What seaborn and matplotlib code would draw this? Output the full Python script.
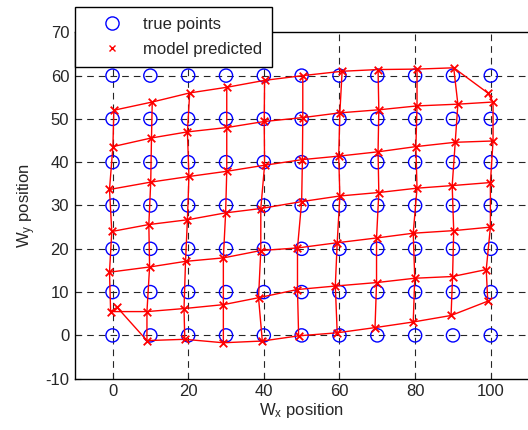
import numpy as np
import pandas as pd
import matplotlib
matplotlib.use("Agg")
import matplotlib.pyplot as plt
from matplotlib.lines import Line2D
import seaborn as sns

# ---- data -------------------------------------------------------------
grid_x = [0, 10, 20, 30, 40, 50, 60, 70, 80, 90, 100]
grid_y = [0, 10, 20, 30, 40, 50, 60]

# predicted positions, one list per true row (y = 0, 10, ..., 60)
pred_x = [
    [1.2, 9.1, 19.1, 29.3, 39.6, 49.2, 59.4, 69.4, 79.5, 89.5, 99.2],
    [-0.5, 9.1, 18.9, 29.3, 38.6, 48.9, 58.9, 69.8, 79.9, 89.9, 98.8],
    [-0.8, 9.8, 19.3, 29.3, 39.2, 48.9, 59.4, 69.8, 79.5, 90.2, 99.9],
    [-0.2, 9.6, 19.8, 29.9, 39.2, 50.0, 60.1, 70.4, 80.5, 89.8, 99.9],
    [-0.8, 10.1, 20.2, 30.2, 40.2, 50.2, 59.8, 70.2, 80.2, 90.6, 100.6],
    [0.1, 10.3, 19.8, 30.2, 40.1, 50.3, 60.1, 70.4, 80.5, 91.3, 100.6],
    [0.35, 10.5, 20.4, 30.2, 40.2, 50.3, 60.7, 70.2, 80.5, 90.2, 99.2],
]
pred_y = [
    [6.5, -1.2, -0.9, -1.7, -1.3, -0.1, 0.6, 1.8, 3.1, 4.6, 7.9],
    [5.5, 5.5, 6.2, 7.1, 8.7, 10.6, 11.4, 12.2, 13.2, 13.6, 15.2],
    [14.6, 15.8, 17.1, 17.9, 19.6, 20.2, 21.4, 22.5, 23.6, 24.2, 25.0],
    [24.0, 25.6, 26.7, 28.3, 29.3, 30.9, 32.2, 33.0, 34.0, 34.6, 35.3],
    [33.7, 35.4, 36.7, 37.9, 39.3, 40.6, 41.4, 42.4, 43.6, 44.6, 44.9],
    [43.6, 45.6, 47.0, 48.0, 49.4, 50.3, 51.4, 52.1, 53.0, 53.4, 53.9],
    [52.0, 53.9, 56.0, 57.3, 58.9, 60.0, 61.0, 61.4, 61.5, 61.8, 56.0],
]

x_ticks = [0, 20, 40, 60, 80, 100]
y_ticks = [-10, 0, 10, 20, 30, 40, 50, 60, 70]
legend_labels = ["true points", "model predicted"]

# ---- frames -----------------------------------------------------------
true_df = pd.DataFrame([(gx, gy) for gy in grid_y for gx in grid_x], columns=["x", "y"])

rows = []
for r, (xs, ys) in enumerate(zip(pred_x, pred_y)):
    for c, (px, py) in enumerate(zip(xs, ys)):
        rows.append((px, py, r, c))
pred_df = pd.DataFrame(rows, columns=["x", "y", "row", "col"])
row_df = pred_df.sort_values(["row", "col"]).reset_index(drop=True)
col_df = pred_df.sort_values(["col", "row"]).reset_index(drop=True)

# ---- style ------------------------------------------------------------
sns.set_style("white")
plt.rcParams["font.family"] = ["Liberation Sans", "DejaVu Sans"]
plt.rcParams["mathtext.default"] = "regular"
plt.rcParams["axes.unicode_minus"] = False
FS = 12

fig = plt.figure(figsize=(5.28, 4.30), dpi=100)
L, R, T, B = 74.7, 528.6, 32.3, 378.7
ax = fig.add_axes([L / 528, 1 - B / 430, (R - L) / 528, (B - T) / 430])

# grid
for gx in x_ticks:
    ax.axvline(gx, color="0.15", lw=0.8, ls=(0, (6, 4.5)), zorder=0)
for gy in y_ticks[1:-1]:
    ax.axhline(gy, color="0.15", lw=0.8, ls=(0, (6, 4.5)), zorder=0)

sns.scatterplot(data=true_df, x="x", y="y", ax=ax, marker="o", s=90,
                facecolor="none", edgecolor="#0000ff", linewidth=1.0, zorder=2,
                legend=False)

sns.lineplot(data=row_df, x="x", y="y", units="row", estimator=None, sort=False,
             color="red", lw=1.0, ax=ax, zorder=3, legend=False)
sns.lineplot(data=col_df, x="x", y="y", units="col", estimator=None, sort=False,
             color="red", lw=1.0, ax=ax, zorder=3, legend=False)
sns.scatterplot(data=pred_df, x="x", y="y", ax=ax, marker="x", s=30,
                color="red", linewidth=1.3, zorder=4, legend=False)

ax.set_xlim(-10, 110)
ax.set_ylim(-10, 70)
ax.set_xticks(x_ticks)
ax.set_yticks(y_ticks)
ax.tick_params(direction="in", length=4, width=0.8, labelsize=FS, pad=4,
               top=False, right=False, bottom=True, left=True)
for s in ax.spines.values():
    s.set_color("black")
    s.set_linewidth(1.0)

ax.set_xlabel("W$_x$ position", fontsize=FS, labelpad=1)
ax.set_ylabel("W$_y$ position", fontsize=FS, labelpad=5)

handles = [
    Line2D([], [], ls="none", marker="o", markersize=9.5, markerfacecolor="none",
           markeredgecolor="#0000ff", markeredgewidth=1.0),
    Line2D([], [], ls="none", marker="x", markersize=5, color="red",
           markeredgewidth=1.0),
]
leg = fig.legend(handles, legend_labels, loc="upper left",
                 bbox_to_anchor=(L / 528, 1 - 6.7 / 430), borderaxespad=0,
                 frameon=True, fancybox=False, fontsize=FS,
                 handlelength=3.3, handletextpad=0.2, borderpad=0.6,
                 labelspacing=0.6)
leg.get_frame().set_edgecolor("black")
leg.get_frame().set_linewidth(1.0)
leg.get_frame().set_alpha(1)
leg.set_zorder(10)

fig.savefig("out.png", dpi=100)
